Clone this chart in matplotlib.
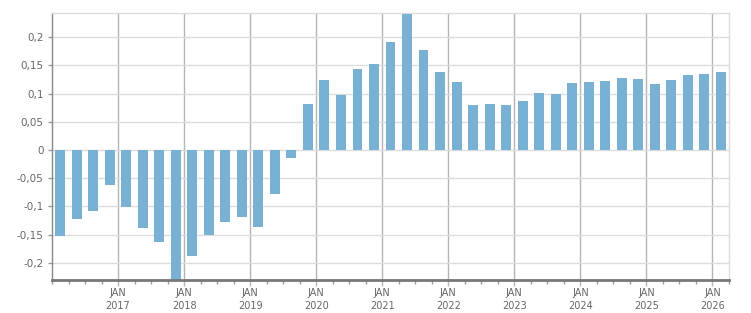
import matplotlib
matplotlib.use("Agg")
import matplotlib.pyplot as plt
from matplotlib.ticker import FixedLocator, FuncFormatter

# Quarterly values, Q1 2016 .. Q1 2026
values = [-0.152, -0.122, -0.108, -0.063,
          -0.101, -0.138, -0.163, -0.240,
          -0.189, -0.151, -0.127, -0.119,
          -0.136, -0.079, -0.015, 0.082,
          0.124, 0.098, 0.144, 0.153,
          0.192, 0.241, 0.178, 0.138,
          0.121, 0.080, 0.082, 0.080,
          0.087, 0.101, 0.099, 0.119,
          0.121, 0.123, 0.128, 0.126,
          0.117, 0.124, 0.133, 0.135,
          0.138]
years = list(range(2017, 2027))
ytick_vals = [-0.2, -0.15, -0.1, -0.05, 0, 0.05, 0.1, 0.15, 0.2]

fig = plt.figure(figsize=(7.51, 3.13), dpi=100)
ax = fig.add_axes([52/751, 33/313, (729-52)/751, (280-13)/313])

xs = [i + 0.5 for i in range(len(values))]
ax.bar(xs, values, width=0.6, color="#78b1d3", zorder=3)

ax.set_xlim(0, len(values))
ax.set_ylim(-0.2307, 0.243)

major = [(y - 2016) * 4 for y in years]
ax.xaxis.set_major_locator(FixedLocator(major))
ax.xaxis.set_minor_locator(FixedLocator([i for i in range(len(values) + 1) if i not in major]))
ax.set_xticklabels([f"JAN\n{y}" for y in years])
ax.yaxis.set_major_locator(FixedLocator(ytick_vals))

def fmt(v, pos):
    if abs(v) < 1e-9:
        return "0"
    s = f"{v:.2f}".rstrip("0").rstrip(".")
    return s.replace(".", ",")
ax.yaxis.set_major_formatter(FuncFormatter(fmt))

ax.grid(axis="y", color="#dddddd", linewidth=1, zorder=0)
ax.grid(axis="x", which="major", color="#b4b4b4", linewidth=1, zorder=1)

for s in ["top", "right"]:
    ax.spines[s].set_color("#dddddd")
    ax.spines[s].set_linewidth(1)
ax.spines["left"].set_color("#888888")
ax.spines["left"].set_linewidth(1)
ax.spines["bottom"].set_color("#777777")
ax.spines["bottom"].set_linewidth(2)
ax.spines["bottom"].set_zorder(5)

ax.tick_params(axis="x", which="major", length=4, width=1, color="#b4b4b4",
               labelsize=7, labelcolor="#666666", pad=2)
ax.tick_params(axis="x", which="minor", length=3, width=1, color="#999999")
ax.tick_params(axis="y", length=3, width=1, color="#999999",
               labelsize=7.5, labelcolor="#666666", pad=3)
for lab in ax.get_xticklabels():
    lab.set_linespacing(1.35)

fig.savefig("out.png", dpi=100)
